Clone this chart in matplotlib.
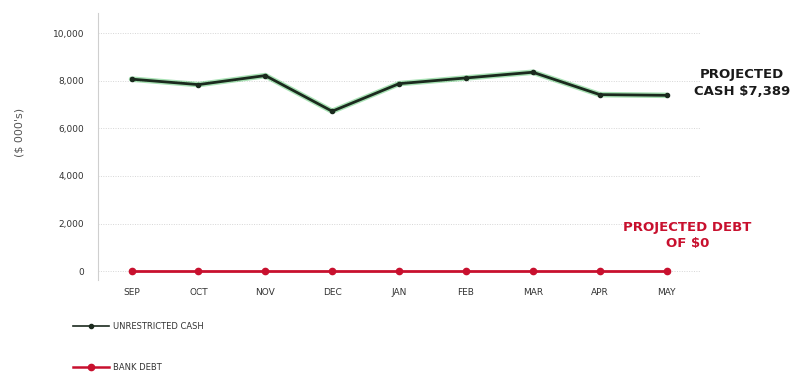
import matplotlib
matplotlib.use("Agg")
import matplotlib.pyplot as plt
from matplotlib.lines import Line2D

months = ["SEP", "OCT", "NOV", "DEC", "JAN", "FEB", "MAR", "APR", "MAY"]
unrestricted_cash = [8070, 7840, 8220, 6720, 7880, 8120, 8360, 7420, 7389]
bank_debt = [0, 0, 0, 0, 0, 0, 0, 0, 0]
y_ticks = [0, 2000, 4000, 6000, 8000, 10000]
y_tick_labels = ["0", "2,000", "4,000", "6,000", "8,000", "10,000"]

cash_color = "#1b2a1e"
debt_color = "#c8102e"

fig = plt.figure(figsize=(7.91, 3.72), dpi=100)
ax = fig.add_axes([0.124, 0.247, 0.761, 0.718])

x = list(range(len(months)))

# Cash series with a soft green glow under a dark line
ax.plot(x, unrestricted_cash, color="#3fbf5a", lw=4.0, alpha=0.45,
        solid_capstyle="round", zorder=2)
ax.plot(x, unrestricted_cash, color=cash_color, lw=2.0, marker="o",
        markersize=3, zorder=3)

# Debt series
ax.plot(x, bank_debt, color=debt_color, lw=2.0, marker="o", markersize=4.5,
        zorder=3)

ax.set_xlim(-0.5, 8.5)
ax.set_ylim(-380, 10850)
ax.set_yticks(y_ticks)
ax.set_yticklabels(y_tick_labels)
ax.set_xticks(x)
ax.set_xticklabels(months)
ax.tick_params(axis="both", length=0, labelsize=6.5, colors="#333333")
ax.tick_params(axis="y", pad=10)
ax.tick_params(axis="x", pad=6)

for s in ["top", "right", "bottom"]:
    ax.spines[s].set_visible(False)
ax.spines["left"].set_color("#cfcfcf")
ax.spines["left"].set_linestyle((0, (1, 1)))
ax.spines["left"].set_linewidth(0.8)

ax.yaxis.grid(True, color="#d6d6d6", linestyle=(0, (1, 1.5)), linewidth=0.7)
ax.set_axisbelow(True)

fig.text(0.025, 0.645, "($ 000's)", rotation=90, ha="center", va="center",
         fontsize=8, color="#555555")

# End-of-period annotations
fig.text(0.938, 0.777, "PROJECTED\nCASH $7,389", ha="center", va="center",
         fontsize=9.5, fontweight="bold", color="#1a1a1a", linespacing=1.35)
fig.text(0.869, 0.368, "PROJECTED DEBT\nOF $0", ha="center", va="center",
         fontsize=9.5, fontweight="bold", color=debt_color, linespacing=1.3)

# Legend entries stacked beneath the plot
handles = [
    Line2D([0], [0], color=cash_color, lw=1.2, marker="o", markersize=3),
    Line2D([0], [0], color=debt_color, lw=1.8, marker="o", markersize=4.5),
]
labels = ["UNRESTRICTED CASH", "BANK DEBT"]
fig.legend(handles, labels, loc="upper left", bbox_to_anchor=(0.083, 0.155),
           frameon=False, fontsize=6, handlelength=4.3, handletextpad=0.5,
           labelspacing=3.9, labelcolor="#333333")

fig.savefig("out.png", dpi=100)
